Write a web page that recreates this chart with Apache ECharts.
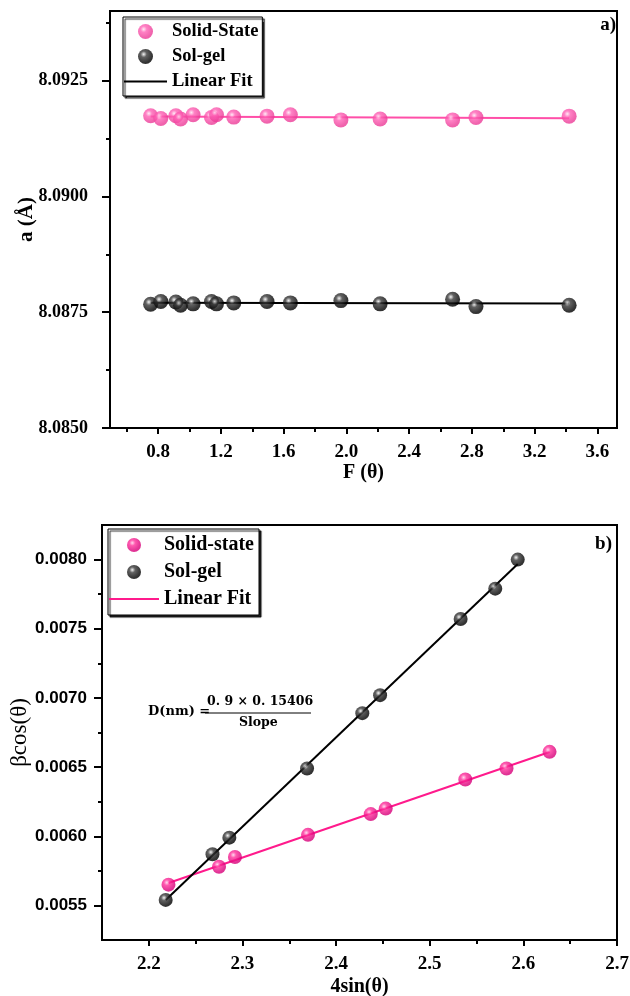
<!DOCTYPE html>
<html>
<head>
<meta charset="utf-8">
<script src="https://cdn.jsdelivr.net/npm/echarts/dist/echarts.min.js"></script>
<style>html,body{margin:0;padding:0;background:#fff}#c{width:630px;height:996px}</style>
</head>
<body>
<div id="c"></div>
<script>
// ---------- Data: panel a) ----------
const topF = [0.752,0.817,0.913,0.943,1.023,1.140,1.172,1.282,1.494,1.643,1.965,2.215,2.677,2.826,3.420];
const topSolidState = [8.09174,8.09168,8.09174,8.09167,8.09176,8.09170,8.09176,8.09171,8.09173,8.09176,8.09165,8.09167,8.09165,8.09170,8.09173];
const topSolGel = [8.08767,8.08773,8.08772,8.08765,8.08768,8.08773,8.08768,8.08770,8.08773,8.08770,8.08775,8.08768,8.08778,8.08762,8.08765];
const topXTicks = [0.8,1.2,1.6,2.0,2.4,2.8,3.2,3.6];
const topXMinor = [0.6,1.0,1.4,1.8,2.2,2.6,3.0,3.4];
const topYTicks = [8.0850,8.0875,8.0900,8.0925];
const topYMinor = [8.08625,8.08875,8.09125,8.09375];

// ---------- Data: panel b) ----------
const botSolidX = [2.221,2.275,2.292,2.370,2.437,2.453,2.538,2.582,2.628];
const botSolidY = [0.00565,0.00578,0.00585,0.00601,0.00616,0.00620,0.00641,0.00649,0.00661];
const botSolGelX = [2.218,2.268,2.286,2.369,2.428,2.447,2.533,2.570,2.594];
const botSolGelY = [0.00554,0.00587,0.00599,0.00649,0.00689,0.00702,0.00757,0.00779,0.00800];
const botXTicks = [2.2,2.3,2.4,2.5,2.6,2.7];
const botXMinor = [2.25,2.35,2.45,2.55,2.65];
const botYTicks = [0.0055,0.0060,0.0065,0.0070,0.0075,0.0080];
const botYMinor = [0.00575,0.00625,0.00675,0.00725,0.00775];

function pairs(xs, ys){ return xs.map((x,i)=>[x, ys[i]]); }
function fit(xs, ys){
  const n = xs.length;
  const mx = xs.reduce((a,b)=>a+b,0)/n, my = ys.reduce((a,b)=>a+b,0)/n;
  let sxy=0, sxx=0;
  for(let i=0;i<n;i++){ sxy+=(xs[i]-mx)*(ys[i]-my); sxx+=(xs[i]-mx)*(xs[i]-mx); }
  const b = sxy/sxx, a = my-b*mx;
  const x0 = Math.min(...xs), x1 = Math.max(...xs);
  return [[x0, a+b*x0],[x1, a+b*x1]];
}
function sphere(light, mid, dark){
  return {type:'radial', x:0.38, y:0.35, r:0.68, colorStops:[
    {offset:0, color:light},{offset:0.3, color:mid},{offset:0.85, color:dark},{offset:1, color:dark}]};
}
const pinkA = sphere('#ffe6f3','#ff62b6','#ec3c98');
const pinkB = sphere('#ffd0ea','#ff2f9b','#d8007a');
const blackS = sphere('#f2f2f2','#3a3a3a','#000000');

const serifBold = {fontFamily:'Liberation Serif', fontWeight:'bold', color:'#000'};

function majorX(grid, min, max, ticks, dec, name, nameSize, nameGap){
  return {type:'value', gridIndex:grid, min:min, max:max, position:'bottom',
    axisLine:{show:true, onZero:false, lineStyle:{color:'#000', width:2}},
    axisTick:{show:true, customValues:ticks, length:6, lineStyle:{color:'#000', width:2}},
    axisLabel:{customValues:ticks, formatter:v=>v.toFixed(dec), margin:15, fontSize:19, ...serifBold},
    splitLine:{show:false},
    name:name, nameLocation:'middle', nameGap:nameGap, nameTextStyle:{fontSize:nameSize, ...serifBold}};
}
function minorAxis(grid, min, max, ticks, pos){
  return {type:'value', gridIndex:grid, min:min, max:max, position:pos,
    axisLine:{show:false, onZero:false}, axisLabel:{show:false}, splitLine:{show:false},
    axisTick:{show:true, customValues:ticks, length:4, lineStyle:{color:'#000', width:2}}};
}

const chart = echarts.init(document.getElementById('c'), null, {renderer:'canvas'});
const legendFmt = n => n.replace(' (b)','');
const hideSym = {itemStyle:{opacity:0}, lineStyle:{opacity:1}};
chart.setOption({
  animation:false,
  backgroundColor:'#fff',
  grid:[
    {left:110, top:11, width:507, height:417, containLabel:false, outerBoundsMode:'none',
      show:true, borderColor:'#000', borderWidth:2, backgroundColor:'transparent'},
    {left:102, top:525, width:515, height:415, containLabel:false, outerBoundsMode:'none',
      show:true, borderColor:'#000', borderWidth:2, backgroundColor:'transparent'}
  ],
  xAxis:[
    majorX(0, 0.493, 3.725, topXTicks, 1, 'F (θ)', 20, 35),
    minorAxis(0, 0.493, 3.725, topXMinor, 'bottom'),
    majorX(1, 2.15, 2.7, botXTicks, 1, '4sin(θ)', 20, 37),
    minorAxis(1, 2.15, 2.7, botXMinor, 'bottom')
  ],
  yAxis:[
    {type:'value', gridIndex:0, min:8.085, max:8.094, position:'left',
      axisLine:{show:true, onZero:false, lineStyle:{color:'#000', width:2}},
      axisTick:{show:true, customValues:topYTicks, length:8, lineStyle:{color:'#000', width:2}},
      axisLabel:{customValues:topYTicks, formatter:v=>v.toFixed(4), margin:22, fontSize:18, ...serifBold},
      splitLine:{show:false},
      name:'a (Å)', nameLocation:'middle', nameRotate:90, nameGap:73, nameMoveOverlap:false,
      nameTextStyle:{fontSize:21, ...serifBold}},
    minorAxis(0, 8.085, 8.094, topYMinor, 'left'),
    {type:'value', gridIndex:1, min:0.00525, max:0.00825, position:'left',
      axisLine:{show:true, onZero:false, lineStyle:{color:'#000', width:2}},
      axisTick:{show:true, customValues:botYTicks, length:8, lineStyle:{color:'#000', width:2}},
      axisLabel:{customValues:botYTicks, formatter:v=>v.toFixed(4), margin:15, fontSize:17,
        fontFamily:'Liberation Sans', fontWeight:'bold', color:'#000'},
      splitLine:{show:false},
      name:'βcos(θ)', nameLocation:'middle', nameRotate:90, nameGap:71, nameMoveOverlap:false,
      nameTextStyle:{fontSize:23, fontFamily:'Liberation Serif', color:'#000'}},
    minorAxis(1, 0.00525, 0.00825, botYMinor, 'left')
  ],
  legend:[
    {orient:'vertical', left:123, top:17,
      data:['Solid-State','Sol-gel',{name:'Linear Fit', ...hideSym}],
      itemWidth:43, itemHeight:15, itemGap:6, padding:[5,4,5,0],
      textStyle:{fontSize:18.5, lineHeight:18, ...serifBold},
      backgroundColor:'#fff', borderColor:'#000', borderWidth:1,
      shadowColor:'rgba(0,0,0,0.85)', shadowBlur:1, shadowOffsetX:2, shadowOffsetY:2,
      selectedMode:false},
    {orient:'vertical', left:108, top:529,
      data:['Solid-state','Sol-gel (b)',{name:'Linear Fit (b)', ...hideSym}],
      itemWidth:50, itemHeight:14, itemGap:7, padding:[6,5,6,0], formatter:legendFmt,
      textStyle:{fontSize:20, lineHeight:20, ...serifBold},
      backgroundColor:'#fff', borderColor:'#000', borderWidth:1,
      shadowColor:'rgba(0,0,0,0.85)', shadowBlur:1, shadowOffsetX:2, shadowOffsetY:2,
      selectedMode:false}
  ],
  series:[
    {name:'Linear Fit', type:'line', xAxisIndex:0, yAxisIndex:0, data:fit(topF, topSolGel), symbol:'none',
      lineStyle:{color:'#000', width:2}, itemStyle:{color:'#000'}, z:2},
    {name:'Fit Solid-State', type:'line', xAxisIndex:0, yAxisIndex:0, data:fit(topF, topSolidState), symbol:'none',
      lineStyle:{color:'#ff4fa8', width:2}, z:2},
    {name:'Solid-State', type:'scatter', xAxisIndex:0, yAxisIndex:0, data:pairs(topF, topSolidState),
      symbolSize:15, itemStyle:{color:pinkA}, z:5},
    {name:'Sol-gel', type:'scatter', xAxisIndex:0, yAxisIndex:0, data:pairs(topF, topSolGel),
      symbolSize:15, itemStyle:{color:blackS}, z:5},

    {name:'Linear Fit (b)', type:'line', xAxisIndex:2, yAxisIndex:2, data:fit(botSolidX, botSolidY), symbol:'none',
      lineStyle:{color:'#ff1a8c', width:2}, itemStyle:{color:'#ff1a8c'}, z:2},
    {name:'Fit Sol-gel (b)', type:'line', xAxisIndex:2, yAxisIndex:2, data:fit(botSolGelX, botSolGelY), symbol:'none',
      lineStyle:{color:'#000', width:2}, z:2},
    {name:'Solid-state', type:'scatter', xAxisIndex:2, yAxisIndex:2, data:pairs(botSolidX, botSolidY),
      symbolSize:14, itemStyle:{color:pinkB}, z:5},
    {name:'Sol-gel (b)', type:'scatter', xAxisIndex:2, yAxisIndex:2, data:pairs(botSolGelX, botSolGelY),
      symbolSize:14, itemStyle:{color:blackS}, z:5}
  ],
  graphic:[
    {type:'text', right:14, top:16, style:{text:'a)', fontSize:19, fontFamily:'Liberation Serif', fontWeight:'bold', fill:'#000'}},
    {type:'text', right:18, top:535, style:{text:'b)', fontSize:19, fontFamily:'Liberation Serif', fontWeight:'bold', fill:'#000'}},
    {type:'text', left:148, top:705, style:{text:'D(nm) =', fontSize:13, fontFamily:'DejaVu Serif', fontWeight:'bold', fill:'#000'}},
    {type:'text', left:207, top:695, style:{text:'0. 9 × 0. 15406', fontSize:12.5, fontFamily:'DejaVu Serif', fontWeight:'bold', fill:'#000'}},
    {type:'line', shape:{x1:205, y1:713, x2:311, y2:713}, style:{stroke:'#000', lineWidth:1}},
    {type:'text', left:239, top:716, style:{text:'Slope', fontSize:12.5, fontFamily:'DejaVu Serif', fontWeight:'bold', fill:'#000'}}
  ]
});
</script>
</body>
</html>
